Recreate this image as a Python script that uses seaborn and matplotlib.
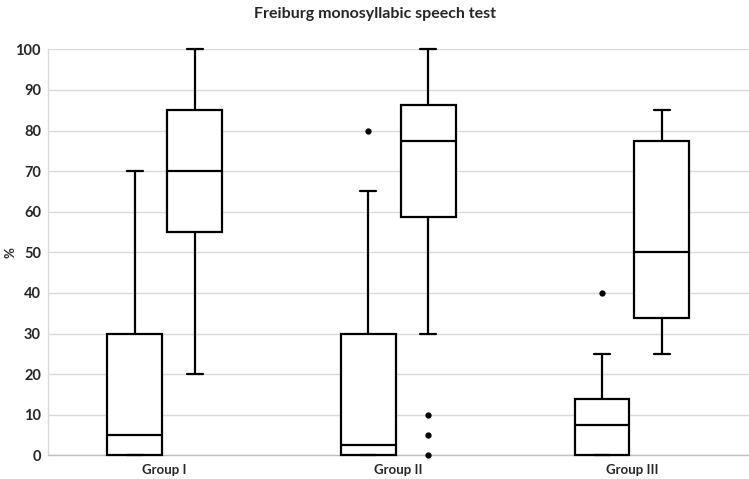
import matplotlib
matplotlib.use("Agg")
import matplotlib.pyplot as plt
import seaborn as sns

# Summary statistics (two boxes per group: left, right)
groups = ["Group I", "Group II", "Group III"]
left_whislo = [0, 0, 0]
left_q1 = [0, 0, 0]
left_med = [5, 2.5, 7.5]
left_q3 = [30, 30, 13.75]
left_whishi = [70, 65, 25]
left_fliers = [[], [80], [40]]

right_whislo = [20, 30, 25]
right_q1 = [55, 58.75, 33.75]
right_med = [70, 77.5, 50]
right_q3 = [85, 86.25, 77.5]
right_whishi = [100, 100, 85]
right_fliers = [[], [10, 5, 0], []]

sns.set_theme(style="whitegrid")
plt.rcParams["font.family"] = ["Lato", "DejaVu Sans"]

fig = plt.figure(figsize=(7.49, 4.79), dpi=100)
ax = fig.add_axes([0.064, 0.0495, 0.9355, 0.8475])

stats = []
positions = []
for i in range(len(groups)):
    stats.append(dict(whislo=left_whislo[i], q1=left_q1[i], med=left_med[i],
                      q3=left_q3[i], whishi=left_whishi[i], fliers=left_fliers[i]))
    positions.append(i - 0.128)
    stats.append(dict(whislo=right_whislo[i], q1=right_q1[i], med=right_med[i],
                      q3=right_q3[i], whishi=right_whishi[i], fliers=right_fliers[i]))
    positions.append(i + 0.128)

lw = 1.6
art = ax.bxp(stats, positions=positions, widths=0.235, capwidths=0.068,
             patch_artist=True, showfliers=True,
             boxprops=dict(facecolor="white", edgecolor="black", linewidth=lw),
             medianprops=dict(color="black", linewidth=lw),
             whiskerprops=dict(color="black", linewidth=lw),
             capprops=dict(color="black", linewidth=lw),
             flierprops=dict(marker="o", markerfacecolor="black",
                             markeredgecolor="black", markersize=3.5))
for key in art:
    for a in art[key]:
        a.set_clip_on(False)
        a.set_zorder(3)

ax.set_xlim(-0.5, 2.5)
ax.set_ylim(0, 100)
ax.set_yticks(range(0, 101, 10))
ax.set_xticks(range(len(groups)))
ax.set_xticklabels(groups, fontsize=9.5, fontweight="bold")
ax.tick_params(axis="y", labelsize=10.5, length=0, pad=5)
ax.tick_params(axis="x", length=0, pad=6)
for lab in ax.get_yticklabels():
    lab.set_fontweight("bold")

ax.grid(axis="y", color="#d9d9d9", linewidth=1)
ax.grid(axis="x", visible=False)
for side in ["top", "right"]:
    ax.spines[side].set_visible(False)
ax.spines["left"].set_color("#d9d9d9")
ax.spines["bottom"].set_color("#bfbfbf")
ax.spines["left"].set_linewidth(1)
ax.spines["bottom"].set_linewidth(1)

ax.set_ylabel("%", fontsize=9.5, fontweight="bold")
ax.yaxis.set_label_coords(-0.045, 0.5)
fig.suptitle("Freiburg monosyllabic speech test", x=0.5, y=0.985,
             fontsize=11.5, fontweight="bold")

fig.savefig("out.png", dpi=100)
